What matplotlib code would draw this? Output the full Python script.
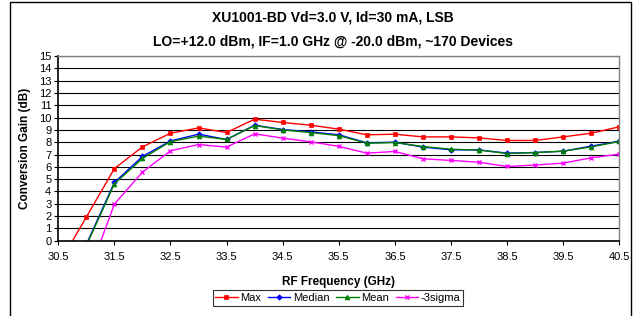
import numpy as np
import matplotlib
matplotlib.use('Agg')
import matplotlib.pyplot as plt
import matplotlib.patches as mpatches

plt.rcParams['font.family'] = ['Liberation Sans', 'DejaVu Sans']

# --- Data ---
freq = [30.5, 31.0, 31.5, 32.0, 32.5, 33.0, 33.5, 34.0, 34.5, 35.0, 35.5,
        36.0, 36.5, 37.0, 37.5, 38.0, 38.5, 39.0, 39.5, 40.0, 40.5]
gain_max = [-2.0, 1.92, 5.86, 7.62, 8.73, 9.16, 8.79, 9.87, 9.6, 9.38, 9.06,
            8.6, 8.65, 8.43, 8.43, 8.35, 8.14, 8.14, 8.43, 8.73, 9.25]
gain_median = [-5.0, -0.3, 4.73, 6.84, 8.1, 8.65, 8.22, 9.38, 9.03, 8.84, 8.6,
               7.95, 8.0, 7.6, 7.38, 7.37, 7.11, 7.16, 7.27, 7.68, 8.08]
gain_mean = [-5.2, -0.4, 4.62, 6.68, 8.05, 8.49, 8.22, 9.35, 9.0, 8.78, 8.53,
             7.92, 7.97, 7.65, 7.43, 7.36, 7.08, 7.16, 7.27, 7.62, 8.06]
gain_3sigma = [-9.0, -3.2, 2.97, 5.57, 7.3, 7.81, 7.6, 8.68, 8.33, 8.03, 7.66,
               7.11, 7.25, 6.65, 6.52, 6.37, 6.03, 6.14, 6.3, 6.73, 7.03]

series = [
    ('Max', gain_max, '#FF0000', 's'),
    ('Median', gain_median, '#0000FF', 'D'),
    ('Mean', gain_mean, '#008000', '^'),
    ('-3sigma', gain_3sigma, '#FF00FF', 'x'),
]

fig = plt.figure(figsize=(6.37, 3.16), dpi=100)

# outer chart border
fig.patches.append(mpatches.Rectangle((10 / 637, -0.05), 621 / 637, 1.05 - 2 / 316,
                                      transform=fig.transFigure, fill=False,
                                      edgecolor='black', linewidth=1.0))

ax = fig.add_axes([58.3 / 637, 75.3 / 316, 561 / 637, 184.7 / 316])

for name, vals, color, marker in series:
    ms = 3.5 if marker != 'D' else 2.8
    ax.plot(freq, vals, color=color, marker=marker, markersize=ms,
            markeredgewidth=1.0 if marker == 'x' else 0.5, linewidth=1.0,
            label=name)

ax.set_xlim(30.5, 40.5)
ax.set_ylim(0, 15)
ax.set_xticks(np.arange(30.5, 40.6, 1.0))
ax.set_xticklabels([f'{v:.1f}' for v in np.arange(30.5, 40.6, 1.0)])
ax.set_yticks(range(0, 16))
ax.yaxis.grid(True, color='black', linewidth=0.8)
ax.set_axisbelow(True)
ax.tick_params(axis='both', labelsize=8, length=3, width=0.8, direction='out', pad=2)
ax.tick_params(axis='x', pad=5)
for side in ['left', 'bottom']:
    ax.spines[side].set_linewidth(1.2)
for side in ['top', 'right']:
    ax.spines[side].set_color('#808080')
    ax.spines[side].set_linewidth(1.0)

ax.set_xlabel('RF Frequency (GHz)', fontsize=8.5, fontweight='bold', labelpad=10)
ax.set_ylabel('Conversion Gain (dB)', fontsize=8.5, fontweight='bold', labelpad=6)

fig.text(0.523, 1 - 18 / 316, 'XU1001-BD Vd=3.0 V, Id=30 mA, LSB',
         ha='center', va='center', fontsize=10, fontweight='bold')
fig.text(0.523, 1 - 42 / 316, 'LO=+12.0 dBm, IF=1.0 GHz @ -20.0 dBm, ~170 Devices',
         ha='center', va='center', fontsize=10, fontweight='bold')

leg = fig.legend(loc='center', bbox_to_anchor=(338 / 637, 1 - 298 / 316), ncol=4,
                 fontsize=8, frameon=True, fancybox=False, edgecolor='black',
                 handlelength=2.0, handletextpad=0.25, columnspacing=0.6,
                 borderpad=0.25, borderaxespad=0)
leg.get_frame().set_linewidth(0.8)

fig.savefig('out.png', dpi=100)
